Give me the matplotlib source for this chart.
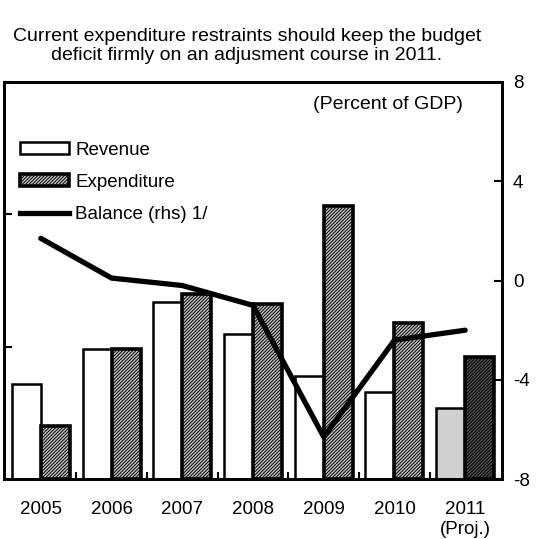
import numpy as np
import matplotlib.pyplot as plt
import matplotlib as mpl
from matplotlib.patches import Patch
from matplotlib.lines import Line2D

plt.rcParams['font.family'] = ['Liberation Sans', 'DejaVu Sans']
plt.rcParams['axes.unicode_minus'] = False
mpl.rcParams['hatch.linewidth'] = 0.7

years = ['2005', '2006', '2007', '2008', '2009', '2010', '2011\n(Proj.)']
revenue = [28.6, 29.9, 31.7, 30.5, 28.9, 28.3, 27.7]
expenditure = [27.0, 29.9, 32.0, 31.6, 35.3, 30.9, 29.6]
balance = [1.7, 0.1, -0.2, -1.0, -6.3, -2.4, -2.0]

fig = plt.figure(figsize=(5.4, 5.39), dpi=100)
ax = fig.add_axes([0.0074, 0.111, 0.9222, 0.737])

x = np.arange(len(years))
w = 0.41
rev_colors = ['white'] * 6 + ['#d0d0d0']
exp_colors = ['#c4c4c4'] * 6 + ['#505050']
for i in range(len(years)):
    ax.bar(x[i] - w / 2, revenue[i] - 25, w, bottom=25, color=rev_colors[i],
           edgecolor='black', linewidth=1.8, zorder=2)
    mpl.rcParams['hatch.color'] = '#333333' if i < 6 else 'black'
    ax.bar(x[i] + w / 2, expenditure[i] - 25, w, bottom=25, color=exp_colors[i],
           edgecolor='black', linewidth=2.6, hatch='//////////', zorder=2)

ax.set_ylim(25, 40)
ax.set_yticks([25, 30, 35, 40])
ax.set_yticklabels([])
ax.set_xlim(-0.52, 6.52)
ax.set_xticks(x)
ax.set_xticklabels(years, fontsize=13.5, linespacing=1.2)
ax.tick_params(axis='x', length=0, pad=16)
ax.set_xticks(x[:-1] + 0.5, minor=True)
ax.tick_params(axis='x', which='minor', direction='in', length=5, width=1.5)
ax.tick_params(axis='y', direction='in', length=6, width=1.5)
for s in ax.spines.values():
    s.set_linewidth(2)

ax2 = ax.twinx()
ax2.plot(x, balance, color='black', linewidth=3.8, solid_capstyle='round', zorder=3)
ax2.set_ylim(-8, 8)
ax2.set_yticks([-8, -4, 0, 4, 8])
ax2.tick_params(axis='y', direction='in', length=6, width=1.5, labelsize=13.5, pad=8)
for s in ax2.spines.values():
    s.set_linewidth(2)

mpl.rcParams['hatch.color'] = '#333333'
handles = [Patch(facecolor='white', edgecolor='black', linewidth=1.8, label='Revenue'),
           Patch(facecolor='#c4c4c4', edgecolor='black', linewidth=2.6, hatch='//////////', label='Expenditure'),
           Line2D([], [], color='black', linewidth=3.8, label='Balance (rhs) 1/')]
ax2.legend(handles=handles, loc='upper left', bbox_to_anchor=(0.032, 0.85), frameon=False,
           fontsize=13.5, handlelength=2.6, handleheight=0.6, handletextpad=0.35,
           labelspacing=0.82, borderaxespad=0, borderpad=0)

ax2.text(0.922, 0.942, '(Percent of GDP)', transform=ax2.transAxes, ha='right', va='center', fontsize=14)

fig.text(0.457, 0.915, 'Current expenditure restraints should keep the budget\ndeficit firmly on an adjusment course in 2011.',
         ha='center', va='center', fontsize=14, linespacing=1.2)

fig.savefig('out.png', dpi=100)
